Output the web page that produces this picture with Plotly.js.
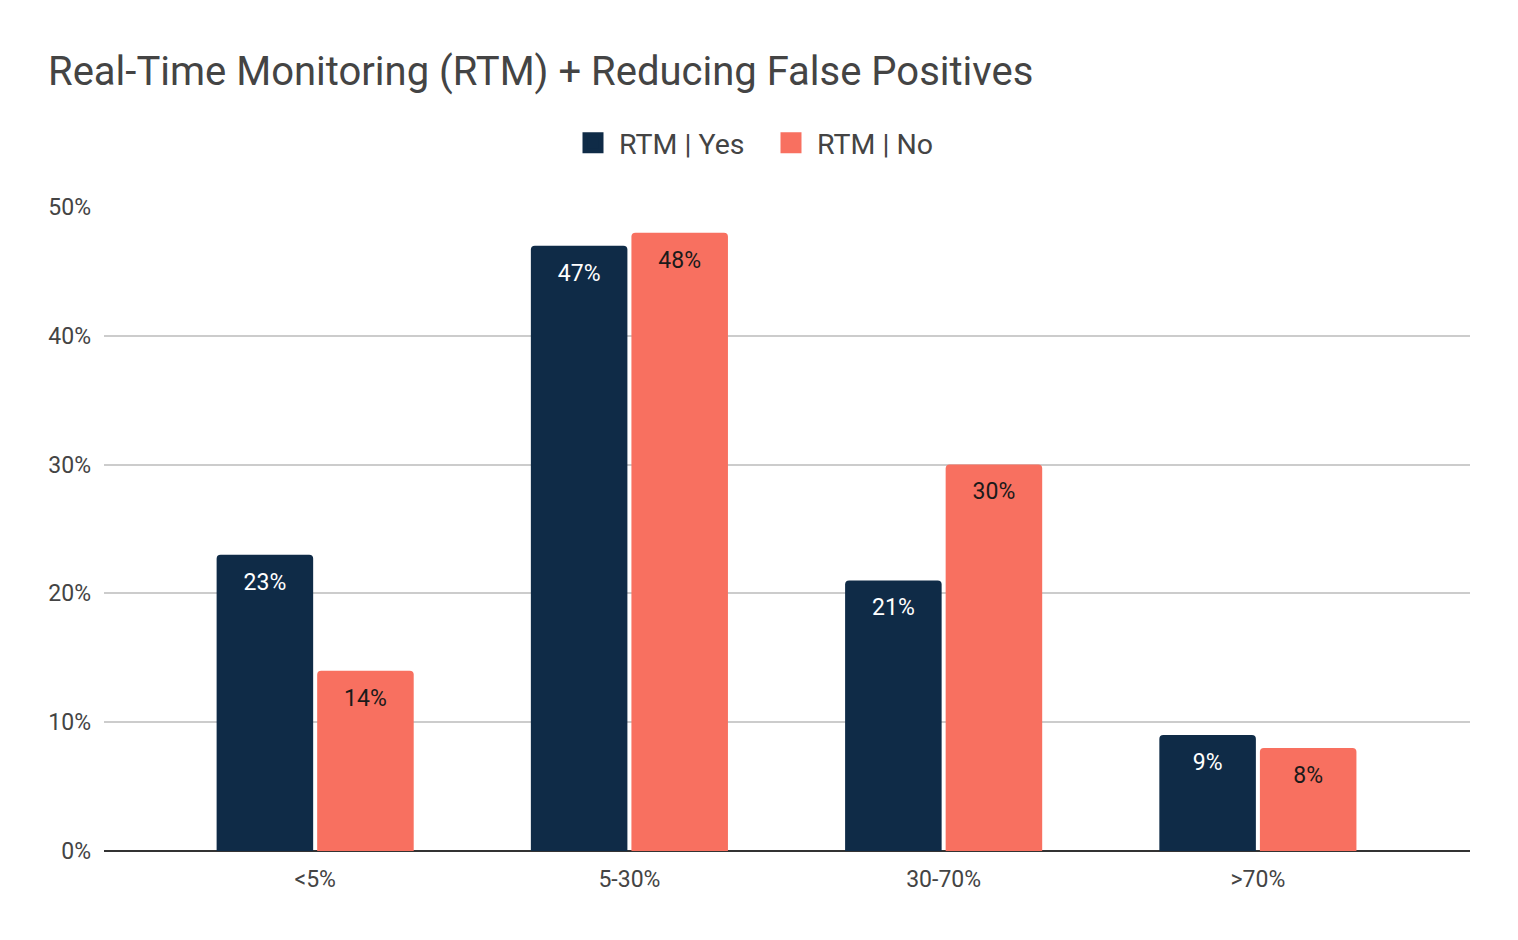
<!DOCTYPE html>
<html>
<head>
<meta charset="utf-8">
<script src="https://cdn.plot.ly/plotly-3.0.1.min.js"></script>
<style>
  html, body { margin: 0; padding: 0; background: #fff; }
  #chart { width: 1518px; height: 940px; }
</style>
</head>
<body>
<div id="chart"></div>
<script>
var categories = ["<5%", "5-30%", "30-70%", ">70%"];
var rtmYes = [23, 47, 21, 9];
var rtmNo = [14, 48, 30, 8];
var seriesNames = ["RTM | Yes", "RTM | No"];
var yTicks = [0, 10, 20, 30, 40, 50];

var navy = "#0f2b47";
var coral = "#f87060";

function barTrace(name, values, color, textColor)
{
    return {
        type: "bar",
        name: name,
        x: categories,
        y: values,
        showlegend: false,
        legendgroup: name,
        marker: { color: color, cornerradius: 4 },
        text: values.map(v => v + "%"),
        texttemplate: "<span style='font-size:1px'> </span><br>%{text}",
        textposition: "inside",
        insidetextanchor: "end",
        textangle: 0,
        constraintext: "none",
        textfont: { family: "Roboto", size: 23, color: textColor },
        hoverinfo: "x+y+name"
    };
}

// square legend swatches, bigger than the default bar icon
function legendProxy(name, color)
{
    return {
        type: "scatter",
        mode: "markers",
        name: name,
        legendgroup: name,
        x: [null],
        y: [null],
        marker: { symbol: "square", size: 16, color: color, line: { color: color, width: 5 } },
        hoverinfo: "skip"
    };
}

var data = [
    barTrace(seriesNames[0], rtmYes, navy, "#ffffff"),
    barTrace(seriesNames[1], rtmNo, coral, "#1a1a1a"),
    legendProxy(seriesNames[0], navy),
    legendProxy(seriesNames[1], coral)
];

var layout = {
    width: 1518,
    height: 940,
    paper_bgcolor: "#ffffff",
    plot_bgcolor: "#ffffff",
    font: { family: "Roboto", color: "#444444" },
    margin: { l: 104, r: 48, t: 207, b: 89, autoexpand: false },
    title: {
        text: "Real-Time Monitoring (RTM) + Reducing False Positives",
        font: { family: "Roboto", size: 40, color: "#444444" },
        xref: "container", x: 48 / 1518, xanchor: "left",
        yref: "container", y: 1 - 71 / 940, yanchor: "middle"
    },
    showlegend: true,
    legend: {
        orientation: "h",
        x: (765 - 104) / 1366, xanchor: "center",
        y: 1.099, yanchor: "middle",
        font: { family: "Roboto", size: 28.5, color: "#444444" },
        itemsizing: "trace",
        itemwidth: 42,
        entrywidth: 141,
        entrywidthmode: "pixels",
        traceorder: "normal"
    },
    barmode: "group",
    bargap: 0.36,
    bargroupgap: 0.04,
    xaxis: {
        type: "category",
        categoryarray: categories,
        range: [-0.672, 3.675],
        showgrid: false,
        showline: false,
        ticks: "",
        tickfont: { family: "Roboto", size: 23, color: "#444444" },
        ticklabelstandoff: 12,
        fixedrange: true
    },
    yaxis: {
        range: [0, 50],
        tickmode: "array",
        tickvals: yTicks,
        ticktext: yTicks.map(v => v + "%"),
        showgrid: true,
        gridcolor: "#cccccc",
        gridwidth: 1.5,
        zeroline: true,
        zerolinecolor: "#333333",
        zerolinewidth: 2,
        showline: false,
        ticks: "",
        tickfont: { family: "Roboto", size: 23, color: "#444444" },
        ticklabelstandoff: 12,
        fixedrange: true
    }
};

Plotly.newPlot("chart", data, layout, { displayModeBar: false, responsive: false });
</script>
</body>
</html>
